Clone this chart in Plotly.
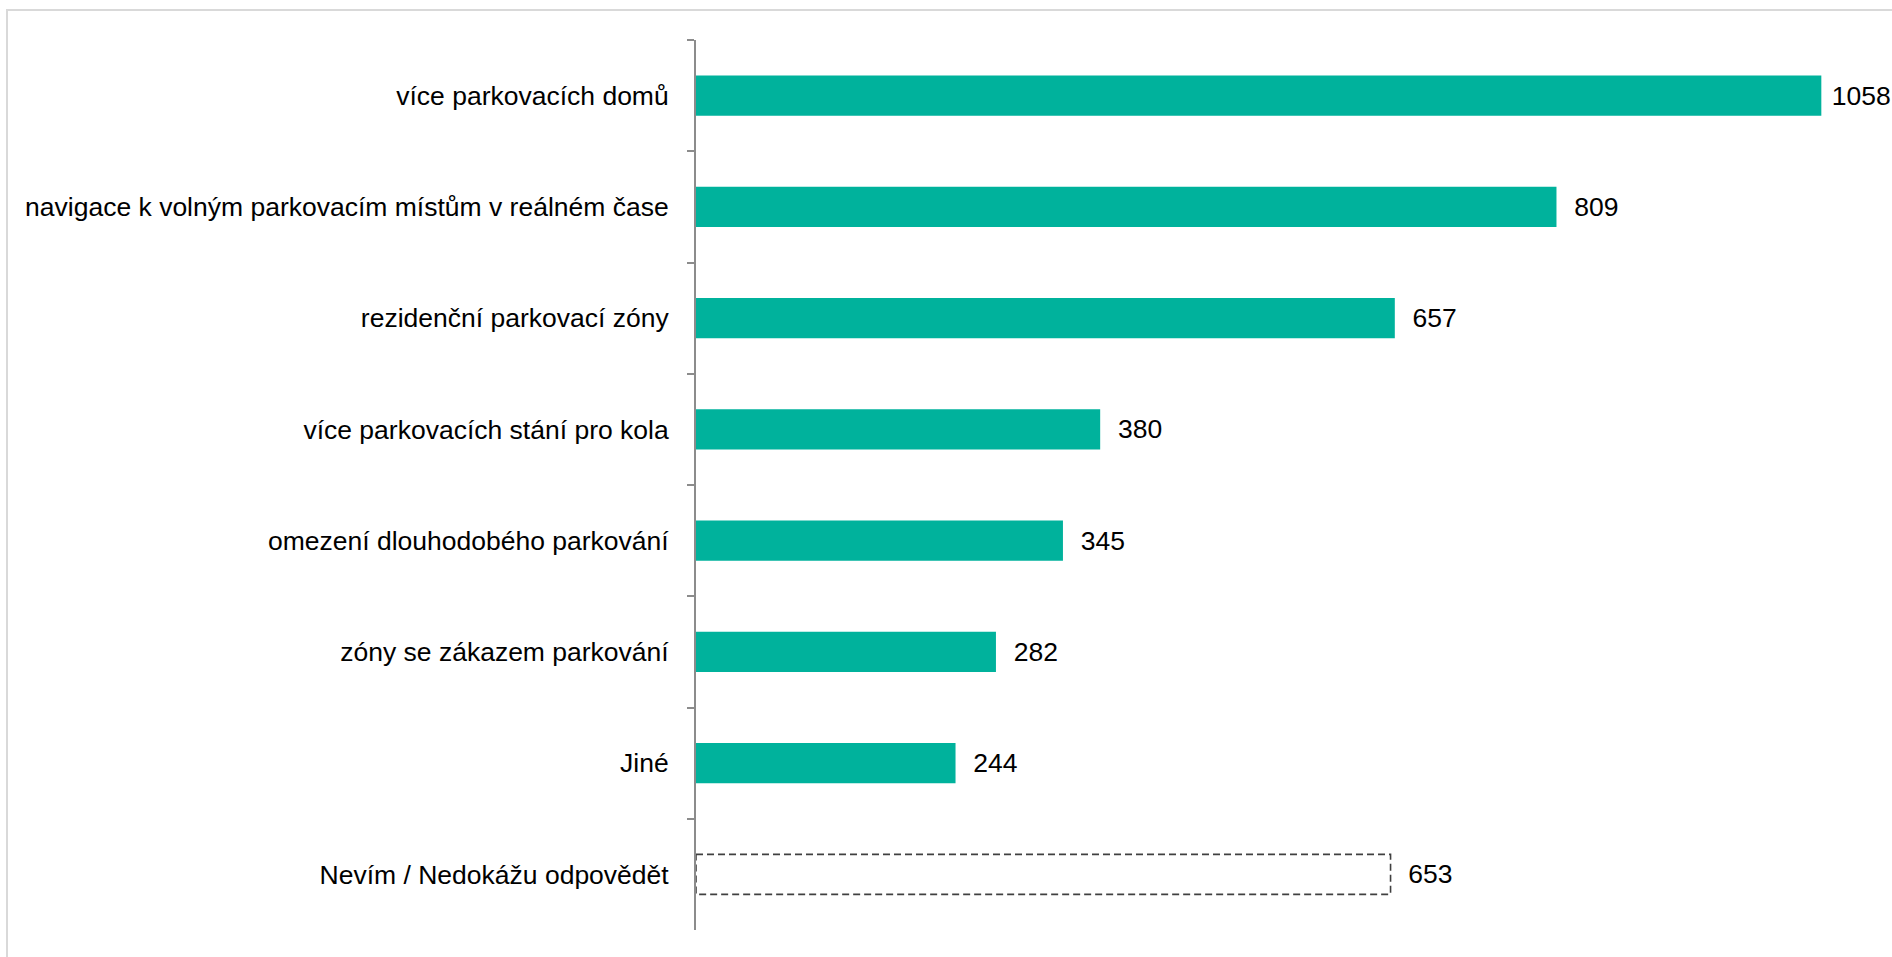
import plotly.graph_objects as go

categories = [
    "více parkovacích domů",
    "navigace k volným parkovacím místům v reálném čase",
    "rezidenční parkovací zóny",
    "více parkovacích stání pro kola",
    "omezení dlouhodobého parkování",
    "zóny se zákazem parkování",
    "Jiné",
    "Nevím / Nedokážu odpovědět",
]
values = [1058, 809, 657, 380, 345, 282, 244, 653]
dashed = [False, False, False, False, False, False, False, True]

W, H = 1892, 957
L, R, T, B = 696, 26, 40, 27
XMAX = 1100

teal = "#00B29C"
FONT = "Liberation Sans, Arial"
FS = 26.5

fills = ["rgba(0,0,0,0)" if d else teal for d in dashed]
vmax = max(values)
labels = [(" " if v == vmax else "  ") + str(v) for v in values]

fig = go.Figure()
fig.add_trace(go.Bar(
    y=categories,
    x=values,
    orientation="h",
    marker=dict(color=fills, line=dict(width=0)),
    text=labels,
    textposition="outside",
    cliponaxis=False,
    textfont=dict(family=FONT, size=FS, color="#000000"),
    hoverinfo="skip",
))

fig.update_layout(
    width=W, height=H,
    margin=dict(l=L, r=R, t=T, b=B, pad=0),
    paper_bgcolor="white",
    plot_bgcolor="white",
    bargap=0.64,
    showlegend=False,
    font=dict(family=FONT, size=FS, color="#000000"),
)
fig.update_xaxes(range=[0, XMAX], visible=False, fixedrange=True)
fig.update_yaxes(
    autorange="reversed",
    showline=True, linecolor="#8C8C8C", linewidth=2,
    ticks="outside", ticklen=7, tickcolor="#8C8C8C", tickwidth=2,
    tickson="boundaries",
    showgrid=False, zeroline=False,
    tickfont=dict(family=FONT, size=FS, color="#000000"),
    ticklabelstandoff=20,
    fixedrange=True,
)

# outer chart border (light grey), top and left visible
pw = W - L - R
ph = H - T - B
def px(x):
    return (x - L) / pw
def py(y):
    return (H - B - y) / ph
fig.add_shape(type="line", xref="paper", yref="paper", layer="below",
              x0=px(6), x1=px(W + 5), y0=py(10), y1=py(10),
              line=dict(color="#D9D9D9", width=2))
fig.add_shape(type="line", xref="paper", yref="paper", layer="below",
              x0=px(7), x1=px(7), y0=py(10), y1=py(H + 5),
              line=dict(color="#D9D9D9", width=2))

# dashed outline for "don't know" bar
for i, (v, d) in enumerate(zip(values, dashed)):
    if d:
        fig.add_shape(type="rect", xref="x", yref="y",
                      x0=0, x1=v, y0=i - 0.18, y1=i + 0.18,
                      line=dict(color="#404040", width=1.6, dash="7px,4px"),
                      fillcolor="rgba(0,0,0,0)")

fig.write_html(
    "out.html",
    config={"displayModeBar": False},
    post_script="document.body.style.margin='0px';document.body.style.overflow='hidden';",
)
